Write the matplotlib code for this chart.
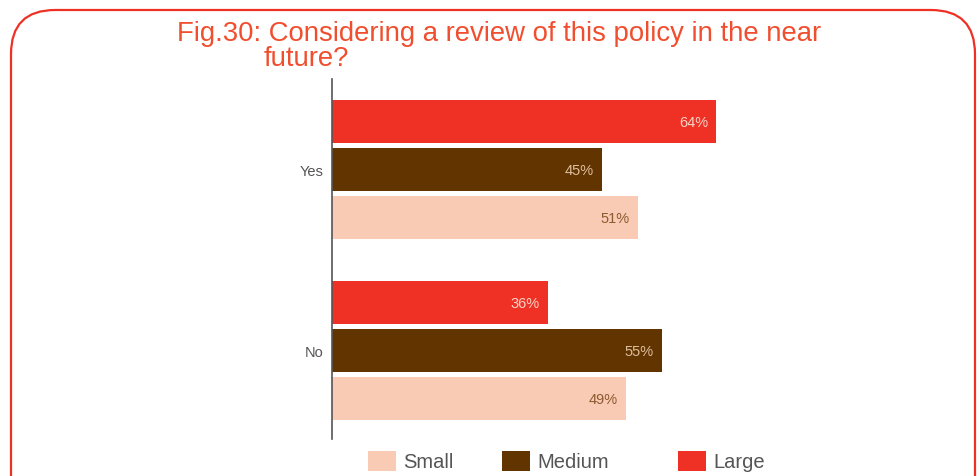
import matplotlib
matplotlib.use('Agg')
import matplotlib.pyplot as plt
from matplotlib.patches import FancyBboxPatch, Patch

plt.rcParams['font.family'] = ['Liberation Sans', 'DejaVu Sans']

# 數據
answers = ['Yes', 'No']
sizes = ['Large', 'Medium', 'Small']
large = [64, 36]
medium = [45, 55]
small = [51, 49]

colors = {'Large': '#EE3124', 'Medium': '#623400', 'Small': '#F9CBB4'}
label_colors = {'Large': '#FAD3C6', 'Medium': '#DDBE9E', 'Small': '#8C5A30'}

W, H = 980, 477
fig = plt.figure(figsize=(W / 100, H / 100), dpi=100)

# 外框
frame = FancyBboxPatch((11 / W, -0.2), (975 - 11) / W, 1.2 - 11 / H,
                       boxstyle='round,pad=0,rounding_size=0.045',
                       transform=fig.transFigure, facecolor='none',
                       edgecolor='#EE3124', linewidth=1.6, mutation_aspect=W / H)
fig.patches.append(frame)

# 標題
title_color = '#F04E2E'
fig.text(177 / W, 1 - 41 / H, 'Fig.30: Considering a review of this policy in the near',
         color=title_color, fontsize=19.8, ha='left', va='baseline')
fig.text(264 / W, 1 - 65.5 / H, 'future?',
         color=title_color, fontsize=19.8, ha='left', va='baseline')

ax = fig.add_axes([332 / W, 1 - 440 / H, 600 / W, 360 / H])

bar_h = 0.238
offset = 0.265
series = {'Large': large, 'Medium': medium, 'Small': small}
for i, name in enumerate(sizes):
    vals = series[name]
    ys = [k + (i - 1) * offset for k in range(len(answers))]
    ax.barh(ys, vals, height=bar_h, color=colors[name])
    for y, v in zip(ys, vals):
        ax.text(v - 1.35, y + 0.005, f'{v}%', ha='right', va='center',
                fontsize=10.5, color=label_colors[name])

ax.set_xlim(0, 100)
ax.set_ylim(1.49, -0.5)
ax.set_yticks(range(len(answers)))
ax.set_yticklabels(answers, fontsize=10.5, color='#555555')
ax.tick_params(axis='y', length=0, pad=6)
ax.set_xticks([])
for s in ['top', 'right', 'bottom']:
    ax.spines[s].set_visible(False)
ax.spines['left'].set_color('#555555')
ax.spines['left'].set_linewidth(1.2)

# 圖例（逐項放置）
legend_x = {'Small': 368, 'Medium': 502, 'Large': 678}
for name in ['Small', 'Medium', 'Large']:
    fig.legend(handles=[Patch(facecolor=colors[name], label=name)],
               loc='center left', bbox_to_anchor=(legend_x[name] / W, 1 - 462 / H),
               frameon=False, fontsize=14.5, handlelength=1.4, handleheight=1.15,
               handletextpad=0.35, borderpad=0, borderaxespad=0,
               labelcolor='#555555')

fig.savefig('out.png', dpi=100)
